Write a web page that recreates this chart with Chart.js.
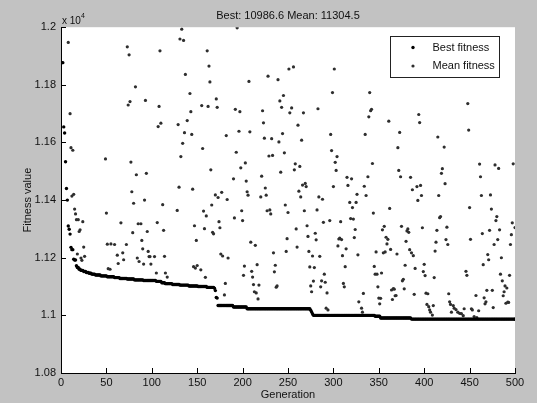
<!DOCTYPE html>
<html>
<head>
<meta charset="utf-8">
<title>GA fitness</title>
<script src="https://cdn.jsdelivr.net/npm/chart.js@4/dist/chart.umd.min.js"></script>
<style>
  body { margin: 0; background: #c2c2c2; }
  canvas { display: block; }
</style>
</head>
<body>
<canvas id="fitnessChart" width="537" height="403"></canvas>
<script>
// best fitness, one value for each generation 1..500
const bestFit = [
    11877, 11877, 11654, 11633, 11533, 11440, 11400, 11310, 11299, 11282,
    11236, 11228, 11228, 11195, 11192, 11192, 11172, 11166, 11166, 11160,
    11160, 11156, 11156, 11156, 11152, 11152, 11152, 11149, 11149, 11149,
    11146, 11146, 11146, 11143, 11143, 11143, 11143, 11140, 11140, 11140,
    11140, 11140, 11140, 11137, 11137, 11137, 11137, 11137, 11137, 11137,
    11134, 11134, 11134, 11134, 11134, 11134, 11134, 11134, 11131, 11131,
    11131, 11131, 11131, 11131, 11128, 11128, 11128, 11128, 11128, 11128,
    11128, 11128, 11126, 11126, 11126, 11126, 11126, 11126, 11126, 11126,
    11123, 11123, 11123, 11123, 11123, 11123, 11123, 11123, 11123, 11123,
    11121, 11121, 11121, 11121, 11121, 11121, 11121, 11121, 11121, 11121,
    11121, 11121, 11121, 11121, 11118, 11118, 11118, 11118, 11118, 11118,
    11113, 11113, 11113, 11113, 11110, 11110, 11110, 11110, 11110, 11110,
    11110, 11110, 11107, 11107, 11107, 11107, 11107, 11107, 11107, 11107,
    11105, 11105, 11105, 11105, 11105, 11105, 11105, 11105, 11105, 11105,
    11102, 11102, 11102, 11102, 11102, 11102, 11102, 11102, 11102, 11102,
    11100, 11100, 11100, 11100, 11100, 11100, 11100, 11100, 11100, 11100,
    11097, 11097, 11097, 11097, 11097, 11097, 11097, 11097, 11094, 11086,
    11062, 11060, 11034, 11034, 11034, 11034, 11034, 11034, 11034, 11034,
    11034, 11034, 11034, 11034, 11034, 11034, 11034, 11034, 11034, 11029,
    11029, 11029, 11029, 11029, 11029, 11029, 11029, 11029, 11029, 11029,
    11029, 11029, 11029, 11029, 11023, 11023, 11023, 11023, 11023, 11023,
    11023, 11023, 11023, 11023, 11023, 11023, 11023, 11023, 11023, 11023,
    11023, 11023, 11023, 11023, 11023, 11023, 11023, 11023, 11023, 11023,
    11023, 11023, 11023, 11023, 11023, 11023, 11023, 11023, 11023, 11023,
    11023, 11023, 11023, 11023, 11023, 11023, 11023, 11023, 11023, 11023,
    11023, 11023, 11023, 11023, 11023, 11023, 11023, 11023, 11023, 11023,
    11023, 11023, 11023, 11023, 11023, 11023, 11023, 11023, 11023, 11023,
    11023, 11023, 11023, 11023, 11018, 11012, 11006, 11000, 11000, 11000,
    11000, 11000, 11000, 11000, 11000, 11000, 11000, 11000, 11000, 11000,
    11000, 11000, 11000, 11000, 11000, 11000, 11000, 11000, 11000, 11000,
    11000, 11000, 11000, 11000, 11000, 11000, 11000, 11000, 11000, 11000,
    11000, 11000, 11000, 11000, 11000, 11000, 11000, 11000, 11000, 11000,
    11000, 11000, 11000, 11000, 11000, 11000, 11000, 11000, 11000, 11000,
    11000, 11000, 11000, 11000, 11000, 11000, 11000, 11000, 11000, 11000,
    11000, 11000, 11000, 11000, 11000, 10997, 10997, 10997, 10997, 10997,
    10997, 10991, 10991, 10991, 10991, 10991, 10991, 10991, 10991, 10991,
    10991, 10991, 10991, 10991, 10991, 10991, 10991, 10991, 10991, 10991,
    10991, 10991, 10991, 10991, 10991, 10991, 10991, 10991, 10991, 10991,
    10991, 10991, 10991, 10991, 10991, 10987, 10987, 10987, 10987, 10987,
    10987, 10987, 10987, 10987, 10987, 10987, 10987, 10987, 10987, 10987,
    10987, 10987, 10987, 10987, 10987, 10987, 10987, 10987, 10987, 10987,
    10987, 10987, 10987, 10987, 10987, 10987, 10987, 10987, 10987, 10987,
    10987, 10987, 10987, 10987, 10987, 10987, 10987, 10987, 10987, 10987,
    10987, 10987, 10987, 10987, 10987, 10987, 10987, 10987, 10987, 10987,
    10987, 10987, 10987, 10987, 10987, 10987, 10987, 10987, 10987, 10987,
    10987, 10987, 10987, 10987, 10987, 10987, 10987, 10987, 10987, 10987,
    10987, 10987, 10987, 10987, 10987, 10987, 10987, 10987, 10987, 10987,
    10987, 10987, 10987, 10987, 10987, 10987, 10987, 10987, 10987, 10987,
    10987, 10987, 10987, 10987, 10987, 10987, 10987, 10987, 10987, 10987,
    10987, 10987, 10987, 10987, 10987, 10987, 10987, 10987, 10987, 10986.6
];

// mean fitness: only the generations whose mean falls inside the axes (< 1.2e4)
const meanGen = [
    8, 10, 11, 12, 13, 14, 15, 16, 17, 18,
    19, 20, 21, 22, 23, 24, 25, 26, 49, 50,
    51, 52, 54, 55, 59, 62, 63, 66, 68, 69,
    72, 73, 74, 75, 76, 77, 78, 79, 80, 82,
    83, 84, 85, 86, 88, 89, 90, 91, 92, 93,
    94, 95, 96, 97, 98, 99, 103, 105, 106, 107,
    108, 109, 110, 112, 113, 114, 115, 117, 128, 129,
    130, 131, 132, 133, 134, 135, 136, 137, 139, 142,
    143, 144, 145, 146, 147, 148, 149, 150, 154, 155,
    156, 157, 158, 159, 160, 161, 162, 163, 164, 165,
    166, 167, 168, 170, 171, 172, 173, 174, 175, 176,
    177, 178, 180, 181, 182, 183, 184, 190, 191, 192,
    193, 194, 196, 197, 198, 199, 200, 201, 202, 203,
    204, 205, 206, 207, 208, 209, 210, 211, 212, 213,
    214, 215, 216, 217, 218, 220, 221, 222, 223, 224,
    225, 226, 227, 228, 229, 230, 231, 232, 233, 234,
    235, 236, 237, 238, 239, 240, 241, 242, 243, 244,
    245, 246, 247, 248, 249, 250, 251, 252, 254, 256,
    257, 258, 259, 260, 261, 262, 263, 264, 265, 266,
    267, 268, 269, 270, 271, 272, 273, 274, 275, 276,
    277, 278, 279, 280, 281, 282, 283, 284, 285, 286,
    287, 288, 289, 290, 291, 292, 293, 294, 296, 297,
    298, 299, 300, 301, 302, 303, 304, 305, 306, 307,
    308, 309, 310, 311, 312, 313, 314, 315, 316, 318,
    319, 320, 321, 322, 323, 324, 325, 326, 327, 328,
    331, 332, 333, 334, 335, 336, 338, 339, 340, 341,
    342, 343, 344, 345, 346, 347, 348, 349, 350, 351,
    352, 353, 354, 355, 356, 357, 358, 359, 360, 361,
    362, 363, 364, 365, 366, 367, 368, 369, 370, 371,
    372, 373, 374, 375, 376, 377, 378, 379, 380, 381,
    382, 383, 384, 385, 386, 387, 388, 389, 390, 392,
    393, 394, 395, 396, 397, 398, 399, 400, 401, 402,
    403, 404, 405, 406, 407, 409, 410, 411, 412, 413,
    414, 415, 416, 417, 418, 419, 420, 422, 423, 424,
    425, 426, 427, 428, 429, 430, 432, 433, 435, 437,
    439, 441, 443, 444, 446, 447, 448, 449, 450, 451,
    452, 453, 455, 457, 458, 460, 461, 462, 463, 464,
    465, 466, 467, 468, 469, 470, 471, 472, 473, 474,
    475, 476, 477, 478, 479, 480, 481, 482, 483, 484,
    485, 486, 487, 488, 489, 490, 491, 492, 493, 494,
    495, 496, 497, 498, 500
];
const meanFit = [
    11947, 11700, 11582, 11414, 11573, 11420, 11369, 11352, 11332, 11213,
    11332, 11291, 11297, 11199, 11191, 11325, 11237, 11205, 11543, 11355,
    11247, 11162, 11160, 11248, 11246, 11209, 11180, 11321, 11217, 11193,
    11246, 11932, 11730, 11904, 11742, 11532, 11429, 11287, 11389, 11793,
    11488, 11199, 11318, 11187, 11318, 11260, 11231, 11178, 11400, 11746,
    11493, 11291, 11222, 11204, 11204, 11178, 11204, 11147, 11322, 11655,
    11725, 11918, 11667, 11384, 11295, 11205, 11147, 11133, 11364, 11662,
    11445, 11959, 11551, 11993, 11597, 11954, 11634, 11836, 11676, 11770,
    11707, 11628, 11438, 11169, 11311, 11164, 11260, 11173, 11158, 11728,
    11579, 11362, 11301, 11132, 11345, 11918, 11725, 11865, 11810, 11505,
    11383, 11288, 11283, 11418, 11751, 11722, 11409, 11325, 11304, 11213,
    11427, 11206, 11071, 11111, 11624, 11402, 11199, 11474, 11338, 11715,
    11566, 11998, 11639, 11707, 11512, 11363, 11329, 11139, 11171, 11529,
    11466, 11429, 11417, 11812, 11637, 11254, 11153, 11133, 11107, 11082,
    11243, 11078, 11176, 11057, 11105, 11411, 11483, 11710, 11668, 11615,
    11442, 11417, 11363, 11830, 11553, 11366, 11352, 11613, 11555, 11217,
    11151, 11174, 11098, 11102, 11818, 11602, 11744, 11497, 11722, 11631,
    11763, 11564, 11383, 11222, 11266, 11357, 11855, 11703, 11720, 11862,
    11505, 11526, 11300, 11237, 11660, 11431, 11517, 11411, 11608, 11452,
    11703, 11363, 11458, 11447, 11311, 11274, 11222, 11168, 11102, 11082,
    11206, 11119, 11166, 11285, 11262, 11366, 11717, 11411, 11205, 11099,
    11120, 11403, 11323, 11143, 11115, 11025, 11078, 11019, 11329, 11628,
    11572, 11773, 11447, 11855, 11531, 11503, 11551, 11241, 11265, 11268,
    11325, 11263, 11207, 11111, 11099, 11169, 11231, 11479, 11451, 11392,
    11336, 11474, 11374, 11334, 11270, 11298, 11392, 11420, 11210, 11047,
    11025, 11011, 11076, 11448, 11628, 11416, 11481, 11689, 11773, 11710,
    11715, 11527, 11355, 11170, 11143, 11220, 11143, 11099, 11060, 11040,
    11059, 11147, 11297, 11217, 11309, 11220, 11271, 11248, 11264, 11674,
    11371, 11229, 11088, 11055, 11093, 11091, 11068, 11069, 11213, 11582,
    11503, 11635, 11481, 11309, 11120, 11125, 11092, 11174, 11257, 11293,
    11300, 11288, 11228, 11479, 11217, 11436, 11207, 11073, 11163, 11447,
    11399, 11697, 11669, 11451, 11416, 11304, 11152, 11177, 11138, 11077,
    11038, 11075, 11030, 11019, 11011, 11001, 11034, 11131, 11223, 11254,
    11295, 11619, 11416, 11339, 11343, 11493, 11509, 11584, 11457, 11263,
    11306, 11246, 11075, 11047, 11038, 11011, 11034, 11025, 11020, 11011,
    11007, 11006, 10999, 11023, 11153, 11139, 11735, 11643, 11374, 11264,
    11023, 11019, 10996, 11069, 10992, 11016, 11525, 11481, 11416, 11284,
    11176, 11061, 11040, 11047, 11087, 11211, 11193, 11295, 11418, 11369,
    11087, 11027, 11246, 11522, 11329, 11343, 11263, 11510, 11297, 11143,
    11200, 11120, 11068, 11082, 11102, 11042, 11095, 11046, 11045, 11139,
    11246, 11280, 11321, 11526, 11304.5
];

const FONT = '"Liberation Sans", Arial, sans-serif';
const figGray = '#c2c2c2';

// grey figure, white axes, inward ticks, exponent label and boxed legend
const matlabLook = {
    id: 'matlabLook',
    beforeDraw(chart) {
        const { ctx, chartArea: a } = chart;
        ctx.save();
        ctx.fillStyle = figGray;
        ctx.fillRect(0, 0, chart.width, chart.height);
        ctx.fillStyle = '#ffffff';
        ctx.fillRect(a.left, a.top, a.right - a.left, a.bottom - a.top);
        ctx.restore();
    },
    afterDraw(chart) {
        const { ctx, chartArea: a, scales } = chart;
        ctx.save();
        ctx.strokeStyle = '#000';
        ctx.lineWidth = 1;
        ctx.beginPath();
        scales.x.ticks.forEach(t => {
            const px = Math.round(scales.x.getPixelForValue(t.value)) + 0.5;
            ctx.moveTo(px, a.bottom);
            ctx.lineTo(px, a.bottom - 5);
        });
        scales.y.ticks.forEach(t => {
            const py = Math.round(scales.y.getPixelForValue(t.value)) + 0.5;
            ctx.moveTo(a.left, py);
            ctx.lineTo(a.left + 5, py);
        });
        ctx.stroke();

        // "x 10^4" above the y axis
        ctx.fillStyle = '#111';
        ctx.textBaseline = 'alphabetic';
        ctx.textAlign = 'left';
        ctx.font = '10px ' + FONT;
        ctx.fillText('x 10', a.left + 1, a.top - 3);
        const w = ctx.measureText('x 10').width;
        ctx.font = '7px ' + FONT;
        ctx.fillText('4', a.left + 1 + w, a.top - 9);

        // legend box
        const bx = Math.round(a.right) - 124.5, by = Math.round(a.top) + 9.5;
        ctx.fillStyle = '#fff';
        ctx.fillRect(bx, by, 109, 41);
        ctx.strokeStyle = '#222';
        ctx.strokeRect(bx, by, 109, 41);
        ctx.font = '11px ' + FONT;
        ctx.textBaseline = 'middle';
        chart.data.datasets.forEach((ds, i) => {
            const ly = by + 11 + i * 18.5;
            ctx.fillStyle = ds.backgroundColor;
            ctx.beginPath();
            ctx.arc(bx + 22.5, ly, ds.pointRadius, 0, Math.PI * 2);
            ctx.fill();
            ctx.fillStyle = '#111';
            ctx.fillText(ds.label, bx + 42, ly);
        });
        ctx.restore();
    }
};

const ctx = document.getElementById('fitnessChart').getContext('2d');
const chart = new Chart(ctx, {
    type: 'scatter',
    data: {
        datasets: [
            {
                label: 'Best fitness',
                data: bestFit.map((v, i) => ({ x: i + 1, y: v })),
                backgroundColor: '#000000',
                pointRadius: 1.7,
                pointBorderWidth: 0,
            },
            {
                label: 'Mean fitness',
                data: meanGen.map((g, i) => ({ x: g, y: meanFit[i] })),
                backgroundColor: '#2e2e2e',
                pointRadius: 1.6,
                pointBorderWidth: 0,
            }
        ]
    },
    options: {
        responsive: false,
        animation: false,
        layout: { padding: { top: 0, right: 22, bottom: 0, left: 0 } },
        plugins: {
            legend: { display: false },
            tooltip: { enabled: false },
            title: {
                display: true,
                fullSize: false,
                text: 'Best: 10986.6 Mean: 11304.5',
                color: '#111',
                font: { family: FONT, size: 11, weight: 'normal' },
                padding: { top: 9, bottom: 5 }
            }
        },
        scales: {
            x: {
                type: 'linear',
                min: 0,
                max: 500,
                afterFit: s => { s.height = 30; },
                border: { display: true, color: '#000', width: 1 },
                grid: { display: false, drawTicks: false },
                ticks: {
                    stepSize: 50,
                    autoSkip: false,
                    maxRotation: 0,
                    padding: 3,
                    color: '#111',
                    font: { family: FONT, size: 11 }
                },
                title: {
                    display: true,
                    text: 'Generation',
                    color: '#111',
                    font: { family: FONT, size: 11 },
                    padding: { top: 0, bottom: 1 }
                }
            },
            y: {
                min: 10800,
                max: 12000,
                afterFit: s => { s.width = 61; },
                border: { display: true, color: '#000', width: 1 },
                grid: { display: false, drawTicks: false },
                ticks: {
                    stepSize: 200,
                    padding: 5,
                    color: '#111',
                    font: { family: FONT, size: 11 },
                    callback: v => parseFloat((v / 1e4).toFixed(2)).toString()
                },
                title: {
                    display: true,
                    text: 'Fitness value',
                    color: '#111',
                    font: { family: FONT, size: 11 },
                    padding: { top: 21, bottom: 0 }
                }
            }
        }
    },
    plugins: [matlabLook]
});
</script>
</body>
</html>
